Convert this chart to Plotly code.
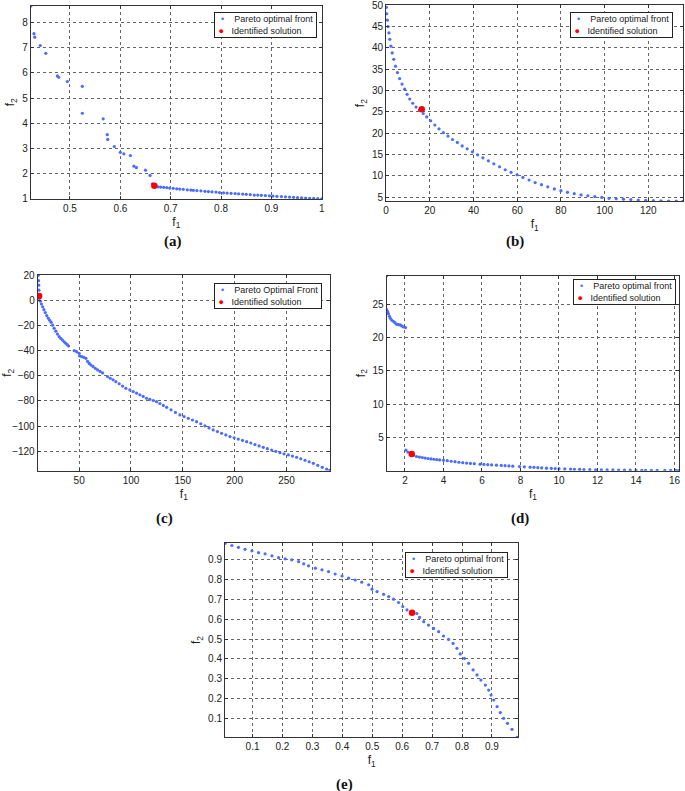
import plotly.graph_objects as go

W, H = 685, 791

# ---------------- data ----------------
# (a)
f1_a = [0.422, 0.4285, 0.430, 0.441, 0.452, 0.475, 0.4775, 0.4947, 0.5245, 0.5245,
        0.566, 0.574, 0.575, 0.588, 0.600, 0.607, 0.620, 0.627, 0.632, 0.650,
        0.659, 0.6636, 0.669, 0.675, 0.680, 0.686, 0.692, 0.698, 0.705, 0.712,
        0.718, 0.725, 0.733, 0.740, 0.745, 0.752, 0.760, 0.768, 0.775, 0.782,
        0.790, 0.797, 0.805, 0.812, 0.820, 0.828, 0.835, 0.843, 0.850, 0.858,
        0.866, 0.873, 0.880, 0.888, 0.896, 0.903, 0.911, 0.920, 0.928, 0.936,
        0.944, 0.952, 0.960, 0.968, 0.976, 0.984, 0.992, 1.000]
f2_a = [8.65, 7.56, 7.42, 7.09, 6.78, 5.88, 5.83, 5.66, 5.47, 4.40,
        4.18, 3.55, 3.36, 3.08, 2.85, 2.79, 2.72, 2.30, 2.24, 2.14,
        1.93, 1.60, 1.49, 1.48, 1.47, 1.46, 1.45, 1.43, 1.42, 1.40,
        1.39, 1.38, 1.36, 1.35, 1.34, 1.33, 1.32, 1.30, 1.29, 1.28,
        1.27, 1.25, 1.24, 1.23, 1.22, 1.21, 1.20, 1.19, 1.18, 1.17,
        1.15, 1.15, 1.14, 1.13, 1.12, 1.11, 1.10, 1.09, 1.08, 1.07,
        1.06, 1.05, 1.04, 1.03, 1.02, 1.02, 1.01, 1.00]
sol_a = (0.6675, 1.52)

# (b)
f1_b = [0.1, 0.3, 0.6, 0.9, 1.3, 1.7, 2.2, 2.8, 3.5, 4.3,
        5.2, 6.2, 7.3, 8.5, 9.6, 10.8, 12.2, 13.7, 15.2, 17.0,
        18.6, 20.4, 22.3, 24.2, 26.2, 28.3, 30.4, 32.6, 34.8, 37.1,
        39.5, 41.9, 44.3, 46.8, 49.3, 51.9, 54.5, 57.2, 59.9, 62.6,
        65.4, 68.2, 71.1, 74.0, 77.0, 80.0, 83.0, 86.1, 89.2, 92.3,
        95.5, 98.7, 102.0, 105.3, 108.6, 112.0, 115.4, 118.8, 122.3, 125.8,
        129.3, 132.8, 135.8]
f2_b = [49.5, 48.0, 46.5, 45.0, 43.5, 42.0, 40.4, 38.8, 37.3, 35.7,
        34.2, 32.8, 31.5, 30.3, 29.1, 28.0, 27.0, 26.1, 25.4, 24.6,
        23.8, 22.9, 21.9, 21.0, 20.1, 19.3, 18.5, 17.8, 17.0, 16.3,
        15.6, 14.9, 14.2, 13.5, 12.8, 12.1, 11.4, 10.8, 10.2, 9.6,
        9.0, 8.4, 7.9, 7.4, 6.9, 6.5, 6.1, 5.8, 5.5, 5.3,
        5.1, 4.9, 4.7, 4.6, 4.5, 4.4, 4.3, 4.2, 4.15, 4.1,
        4.05, 4.02, 4.0]
sol_b = (16.3, 25.6)

# (c)
f1_c = [10.6, 10.8, 11.0, 11.2, 11.8, 12.6, 13.6, 14.8, 16.0, 17.3,
        18.7, 20.2, 21.6, 23.0, 24.4, 25.9, 27.5, 29.1, 30.7, 32.3,
        33.9, 35.5, 37.0, 38.5, 39.8, 45.2, 47.6, 50.0, 50.4, 52.5,
        54.5, 56.5, 58.1, 59.7, 61.3, 63.4, 65.6, 67.8, 70.2, 72.6,
        77.4, 80.0, 82.7, 85.4, 88.6, 91.9, 95.1, 98.9, 102.1, 105.4,
        108.6, 111.8, 115.0, 118.2, 121.5, 124.7, 127.9, 131.2, 134.4, 138.6,
        142.9, 147.2, 151.2, 155.3, 159.3, 163.3, 167.3, 171.3, 175.3, 179.3,
        183.4, 187.4, 191.5, 195.5, 199.5, 203.5, 207.6, 211.6, 215.6, 219.6,
        223.6, 227.6, 231.6, 235.7, 239.7, 243.7, 247.7, 251.8, 255.8, 259.8,
        263.8, 267.9, 271.9, 275.9, 280.2, 284.5, 288.8, 291.8]
f2_c = [19.8, 15.5, 12.0, 8.0, 1.5, -0.8, -3.0, -5.2, -7.5, -9.8,
        -12.2, -14.3, -16.0, -17.6, -19.8, -22.3, -24.6, -26.9, -29.0, -30.4,
        -31.7, -33.0, -34.2, -35.3, -36.4, -40.1, -41.0, -42.2, -44.3, -44.9,
        -45.5, -46.2, -48.6, -50.2, -51.5, -52.6, -54.1, -55.4, -56.6, -57.8,
        -60.7, -62.0, -63.3, -64.7, -66.4, -68.2, -70.0, -71.3, -72.6, -73.9,
        -75.2, -76.5, -77.9, -78.8, -79.7, -80.6, -82.1, -83.6, -85.1, -87.1,
        -89.2, -91.2, -92.5, -93.9, -95.2, -96.5, -98.2, -99.8, -101.5, -103.1,
        -104.4, -105.8, -107.1, -108.4, -109.4, -110.4, -111.4, -112.4, -113.5, -114.7,
        -115.8, -116.9, -118.0, -119.1, -120.1, -121.2, -122.1, -123.0, -123.9, -124.8,
        -126.0, -127.2, -128.4, -129.6, -131.2, -132.8, -134.3, -135.3]
sol_c = (11.4, 3.3)

# (d)
f1_d = [1.05, 1.05, 1.10, 1.14, 1.19, 1.24, 1.32, 1.41, 1.49, 1.57,
        1.66, 1.75, 1.83, 1.92, 2.03,
        2.05, 2.15, 2.45, 2.6, 2.75, 2.9, 3.05, 3.2, 3.35, 3.5,
        3.65, 3.8, 4.0, 4.2, 4.4, 4.6, 4.8, 5.0, 5.2, 5.4,
        5.6, 5.9, 6.1, 6.3, 6.5, 6.75, 7.0, 7.2, 7.4, 7.6,
        7.95, 8.2, 8.5, 8.7, 8.9, 9.1, 9.35, 9.6, 9.8, 10.0,
        10.3, 10.6, 10.8, 11.07, 11.3, 11.6, 11.9, 12.2, 12.5, 12.8,
        13.1, 13.4, 13.7, 14.0, 14.3, 14.5, 14.8, 15.1, 15.5, 15.8,
        16.06, 16.2]
f2_d = [29.3, 24.2, 23.9, 23.6, 23.2, 22.9, 22.6, 22.4, 22.2, 22.0,
        21.95, 21.9, 21.75, 21.6, 21.5,
        3.1, 2.8, 2.35, 2.13, 2.05, 1.98, 1.9, 1.83, 1.77, 1.72,
        1.67, 1.62, 1.56, 1.5, 1.42, 1.35, 1.27, 1.2, 1.15, 1.1,
        1.05, 0.98, 0.95, 0.91, 0.87, 0.83, 0.79, 0.76, 0.72, 0.68,
        0.62, 0.58, 0.53, 0.5, 0.46, 0.42, 0.38, 0.35, 0.33, 0.3,
        0.27, 0.24, 0.22, 0.2, 0.18, 0.16, 0.14, 0.13, 0.12, 0.11,
        0.1, 0.09, 0.08, 0.07, 0.07, 0.06, 0.06, 0.05, 0.05, 0.04,
        0.04, 0.03]
sol_d = (2.35, 2.5)

# (e)
f1_e = [0.0086, 0.031, 0.053, 0.075, 0.098, 0.120, 0.142, 0.165, 0.187, 0.209,
        0.231, 0.254, 0.271, 0.287, 0.310, 0.332, 0.354, 0.376, 0.399, 0.421,
        0.443, 0.465, 0.488, 0.499, 0.516, 0.538, 0.555, 0.571, 0.588, 0.602,
        0.616, 0.649, 0.658, 0.672, 0.688, 0.705, 0.722, 0.738, 0.755, 0.770,
        0.783, 0.794, 0.808, 0.822, 0.837, 0.850, 0.863, 0.878, 0.889, 0.897,
        0.906, 0.917, 0.928, 0.939, 0.952, 0.967, 0.984]
f2_e = [0.980, 0.969, 0.960, 0.950, 0.942, 0.933, 0.927, 0.917, 0.908, 0.902,
        0.897, 0.888, 0.877, 0.867, 0.855, 0.847, 0.838, 0.826, 0.816, 0.805,
        0.796, 0.785, 0.772, 0.750, 0.738, 0.724, 0.713, 0.700, 0.683, 0.663,
        0.646, 0.628, 0.608, 0.587, 0.570, 0.553, 0.537, 0.515, 0.498, 0.478,
        0.453, 0.425, 0.403, 0.378, 0.345, 0.320, 0.294, 0.269, 0.244, 0.219,
        0.194, 0.161, 0.131, 0.102, 0.077, 0.047, 0.007]
sol_e = (0.633, 0.632)

ticks_x_a = [0.5, 0.6, 0.7, 0.8, 0.9, 1.0]
ticks_y_a = [1, 2, 3, 4, 5, 6, 7, 8]
ticks_x_b = [0, 20, 40, 60, 80, 100, 120]
ticks_y_b = [5, 10, 15, 20, 25, 30, 35, 40, 45, 50]
ticks_x_c = [50, 100, 150, 200, 250]
ticks_y_c = [-120, -100, -80, -60, -40, -20, 0, 20]
ticks_x_d = [2, 4, 6, 8, 10, 12, 14, 16]
ticks_y_d = [5, 10, 15, 20, 25]
ticks_x_e = [0.1, 0.2, 0.3, 0.4, 0.5, 0.6, 0.7, 0.8, 0.9]
ticks_y_e = [0.1, 0.2, 0.3, 0.4, 0.5, 0.6, 0.7, 0.8, 0.9]

front_names = ["Pareto optimal front", "Pareto optimal front", "Pareto Optimal Front",
               "Pareto optimal front", "Pareto optimal front"]
solution_name = "Identified solution"
panel_labels = ["(a)", "(b)", "(c)", "(d)", "(e)"]

BLUE = "#4a6cff"
RED = "#ff0000"


def px(xpix):
    return xpix / W


def py(ypix):
    return 1 - ypix / H


panels = [
    dict(f1=f1_a, f2=f2_a, sol=sol_a, xr=[0.422, 1.0005], yr=[0.995, 8.67],
         tx=ticks_x_a, ty=ticks_y_a, box=(30.7, 5.7, 322, 199),
         leg=(317, 11.7), lab=(173, 241)),
    dict(f1=f1_b, f2=f2_b, sol=sol_b, xr=[-0.05, 136], yr=[4, 50.05],
         tx=ticks_x_b, ty=ticks_y_b, box=(386, 5, 683.3, 201.3),
         leg=(673.3, 11.7), lab=(515, 241)),
    dict(f1=f1_c, f2=f2_c, sol=sol_c, xr=[10, 292], yr=[-135.5, 20.05],
         tx=ticks_x_c, ty=ticks_y_c, box=(37.7, 275, 330, 470.7),
         leg=(321.7, 283.3), lab=(164, 518)),
    dict(f1=f1_d, f2=f2_d, sol=sol_d, xr=[1.05, 16.25], yr=[0, 29.3],
         tx=ticks_x_d, ty=ticks_y_d, box=(386.7, 275.7, 679.3, 470.7),
         leg=(676, 279), lab=(520, 518)),
    dict(f1=f1_e, f2=f2_e, sol=sol_e, xr=[0.008, 0.988], yr=[0.007, 0.983],
         tx=ticks_x_e, ty=ticks_y_e, box=(225, 542.7, 518.3, 737.3),
         leg=(508.3, 551.7), lab=(344, 784)),
]

fig = go.Figure()
layout = dict(width=W, height=H, margin=dict(l=0, r=0, t=0, b=0),
              paper_bgcolor="white", plot_bgcolor="white", autosize=False,
              showlegend=False,
              font=dict(family="Arial, Liberation Sans", size=10, color="#222"),
              annotations=[])

NB = "\u00a0"
for i, p in enumerate(panels):
    n = "" if i == 0 else str(i + 1)
    fig.add_trace(go.Scatter(x=p["f1"], y=p["f2"], mode="markers",
                             name=front_names[i],
                             xaxis="x" + n, yaxis="y" + n,
                             marker=dict(color=BLUE, size=3.2, symbol="circle")))
    fig.add_trace(go.Scatter(x=[p["sol"][0]], y=[p["sol"][1]], mode="markers",
                             name=solution_name,
                             xaxis="x" + n, yaxis="y" + n,
                             marker=dict(color=RED, size=6.5, symbol="circle")))
    l, t, r, b = p["box"]
    common = dict(showgrid=True, gridcolor="#666", griddash="dot", gridwidth=1,
                  showline=True, linecolor="#333", linewidth=1, mirror="ticks",
                  ticks="inside", ticklen=3, tickcolor="#333", zeroline=False,
                  ticklabeloverflow="allow",
                  tickfont=dict(family="Arial, Liberation Sans", size=10, color="#222"),
                  automargin=False)
    layout["xaxis" + n] = dict(common, domain=[px(l), px(r)], range=p["xr"],
                               tickvals=p["tx"], anchor="y" + n,
                               title=dict(text="f<sub>1</sub>", standoff=4,
                                          font=dict(size=12, color="#222")))
    layout["yaxis" + n] = dict(common, domain=[py(b), py(t)], range=p["yr"],
                               tickvals=p["ty"], anchor="x" + n,
                               title=dict(text="f<sub>2</sub>", standoff=4,
                                          font=dict(size=12, color="#222")))
    # legend box (key for the two traces of the panel)
    legend_text = (NB + NB + "<span style='color:" + BLUE + "'>•</span>" + NB * 4
                   + front_names[i] + NB + "<br>"
                   + NB + "<span style='color:" + RED + "'>●</span>" + NB * 3
                   + solution_name + NB)
    layout["annotations"].append(dict(text=legend_text, align="left",
                                      x=px(p["leg"][0]), y=py(p["leg"][1]),
                                      xref="paper", yref="paper", showarrow=False,
                                      xanchor="right", yanchor="top",
                                      bgcolor="white", bordercolor="#222",
                                      borderwidth=1, borderpad=1,
                                      font=dict(family="Arial, Liberation Sans",
                                                size=9, color="#222")))
    layout["annotations"].append(dict(text="<b>" + panel_labels[i] + "</b>",
                                      x=px(p["lab"][0]), y=py(p["lab"][1]),
                                      xref="paper", yref="paper", showarrow=False,
                                      xanchor="center", yanchor="middle",
                                      font=dict(family="Liberation Serif, Times New Roman",
                                                size=15, color="#111")))

fig.update_layout(**layout)
fig.write_html("out.html", config={"displayModeBar": False},
               post_script="document.body.style.margin='0';document.body.style.overflow='hidden';")
